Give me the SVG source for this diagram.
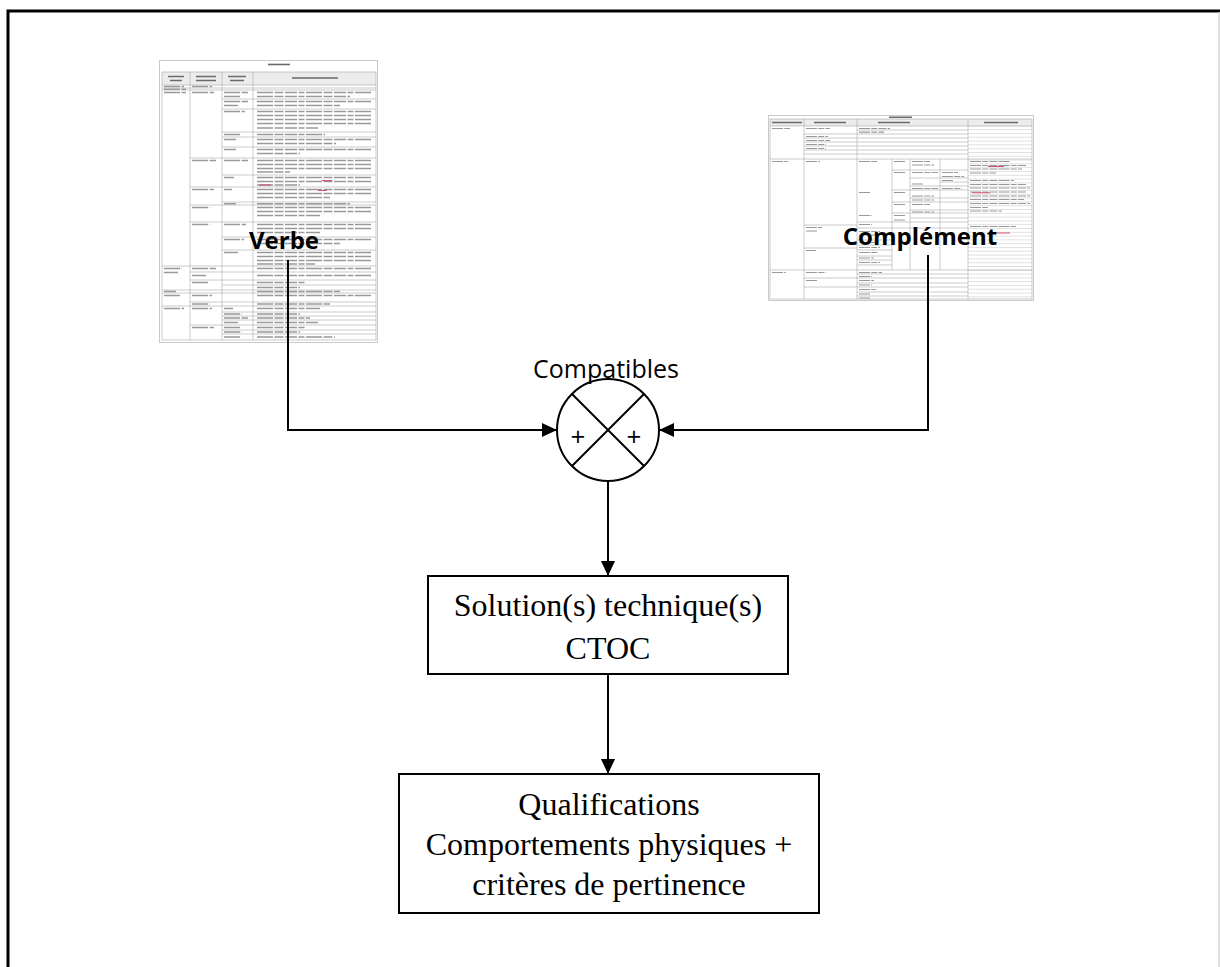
<svg xmlns="http://www.w3.org/2000/svg" width="1220" height="967" viewBox="0 0 1220 967">
<style>
.gl{stroke:#a9a9a9;stroke-width:0.6;fill:none}
.t{stroke:#999;stroke-width:1.5;stroke-dasharray:16 1.5 9 1.5 12 1.5 6 1.5;fill:none}
.t2{stroke:#999;stroke-width:1.2;stroke-dasharray:11 1.2 6 1.2 8 1.2;fill:none}
.th{stroke:#6a6a6a;stroke-width:1.6;fill:none}
.red{stroke:#d04060;stroke-width:0.9;fill:none}
.ln{stroke:#000;stroke-width:2;fill:none}
.box{fill:#fff;stroke:#000;stroke-width:2}
.serif{font-family:"Liberation Serif","Times New Roman",serif;font-size:32px;text-anchor:middle;fill:#000}
.lbl{font-family:"Open Sans","Noto Sans",sans-serif;font-weight:bold;font-size:24px;text-anchor:middle;fill:#000}
.sans{font-family:"Open Sans","Noto Sans",sans-serif;text-anchor:middle;fill:#000}
</style>
<defs>
<marker id="ah" markerUnits="userSpaceOnUse" markerWidth="16" markerHeight="14" refX="15" refY="7" orient="auto">
<path d="M0,0L15,7L0,14z" fill="#000"/>
</marker>
<pattern id="rowsR" width="20" height="3.8" patternUnits="userSpaceOnUse">
<line x1="0" y1="0.3" x2="20" y2="0.3" stroke="#b5b5b5" stroke-width="0.5"/>
</pattern>
</defs>

<!-- page frame -->
<path d="M8,968V11H1220" fill="none" stroke="#000" stroke-width="3"/>
<line x1="1219" y1="12" x2="1219" y2="967" stroke="#d9d9d9" stroke-width="1.5"/>

<!-- left table thumbnail: base de verbes -->
<g id="table-verbes">
<rect x="159.5" y="60.5" width="218" height="282" fill="#fff" stroke="#c9c9c9" stroke-width="1"/>
<rect x="162" y="72" width="214" height="13" fill="#ececec"/>
<path class="th" d="M268,64.5H290"/>
<path class="th" d="M168,76.5H184M170,80.5H182M196,76.5H216M196,80.5H216M228,76.5H246M230,80.5H244M292,78H338"/>
<rect x="162" y="72" width="214" height="268" class="gl"/>
<path class="gl" d="M190,72V340M222,72V340M253,72V340"/>
<path class="gl" d="M162,85H376M162,88H376M162,90H376M162,266H376M162,290H376M162,293H376M162,306H376"/>
<path class="gl" d="M190,158H376M190,187H376M190,205H376M190,222H376M190,272H376M190,280H376M190,302H376M190,325H376"/>
<path class="gl" d="M222,99H376M222,109H376M222,132H376M222,137H376M222,147H376M222,175H376M222,202H376M222,237H376M222,250H376M222,285H376M222,312H376M222,316H376M222,320H376M222,330H376M222,334H376"/>
<path class="t" d="M257,92.5H372M257,96.5H350M257,101.5H372M257,105.5H340M257,111.5H372M257,115.5H372M257,119.5H372M257,123.5H372M257,128H318M257,134.5H325M257,139.5H372M257,143.5H336M257,149.5H372M257,153.5H300M257,160.5H372M257,164.5H372M257,168.5H372M257,172H290M257,177.5H372M257,181.5H372M257,185H300M257,189.5H372M257,193.5H372M257,197.5H330M257,203.8H350M257,207.5H372M257,211.5H372M257,215.5H320M257,224.5H372M257,228.5H372M257,232.5H320M257,239.5H372M257,243.5H340M257,252.5H372M257,256.5H372M257,260.5H372M257,264H315M257,268.5H372M257,275.5H372M257,282.5H305M257,287.5H300M257,291.5H340M257,295.5H372M257,304H330M257,308.5H320M257,314H300M257,318H310M257,322.5H318M257,327.5H305M257,332H300M257,337H335"/>
<path class="t" d="M224,92.5H248M224,96.5H240M224,101.5H248M224,105.5H238M224,111.5H245M224,134.5H240M224,139.5H236M224,149.5H236M224,160.5H248M224,177.5H234M224,189.5H232M224,203.8H236M224,224.5H246M224,239.5H244M224,252.5H238M224,308.5H233M224,314H242M224,318H248M224,322.5H238M224,327.5H240M224,332H242M224,337H240"/>
<path class="t" d="M192,86.5H212M192,92.5H214M192,160.5H216M192,189.5H214M192,207.5H210M192,224.5H210M192,268.5H216M192,275.5H206M192,282.5H208M192,295.5H212M192,304H210M192,308.5H212M192,327.5H214"/>
<path class="t" d="M164,86.5H184M164,89.2H186M164,92.5H186M164,268.5H182M164,272.5H178M164,291.5H176M164,295.5H180M164,308.5H184"/>
<path class="red" d="M322,180.5H332M259,185H271M318,190.5H327"/>
</g>

<!-- right table thumbnail: complement -->
<g id="table-complement">
<rect x="768.5" y="115.5" width="265" height="185" fill="#fff" stroke="#c9c9c9" stroke-width="1"/>
<rect x="770" y="119" width="262" height="7" fill="#ececec"/>
<path class="th" stroke-width="1.2" d="M889,117.3H912M772,122.5H802M814,122.5H846M878,122.5H910M984,122.5H1018"/>
<rect x="968" y="126" width="64" height="173" fill="url(#rowsR)"/>
<rect x="770" y="119" width="262" height="180" class="gl"/>
<path class="gl" d="M804,119V299M857,119V299M968,119V299M892,159V270M910,159V270M940,159V270"/>
<path class="gl" d="M770,126H1032M770,159H1032M770,270H1032"/>
<path class="gl" d="M804,134H968M804,138H968M804,142H968M804,146H968M804,150H968M804,154H968M857,130H968"/>
<path class="gl" d="M892,170H968M910,178H968M940,182H968M910,186H968M892,190H968M910,198H968M892,202H968M910,210H968M892,213H968M910,218H968M857,222H968M857,228H968M804,225H857M857,240H892M857,245H892M857,250H892M804,248H857M857,256H892M857,260H892M857,265H892"/>
<path class="gl" d="M857,274H968M804,278H968M857,283H968M804,287H968M857,292H968M857,296H968"/>
<path class="t2" d="M772,128.5H790M772,161.5H788M772,272.5H786"/>
<path class="t2" d="M806,128.5H830M806,136.5H828M806,140.5H830M806,144.5H826M806,148.5H826M806,161.5H820M806,227.5H822M806,231H818M806,250.5H816M806,272.5H826M806,280.5H818"/>
<path class="t2" d="M859,128.5H890M859,132.2H884M859,161.5H878M859,192.5H870M859,215.5H872M859,224.5H872M859,231.5H880M859,235H876M859,242.5H878M859,247.5H880M859,252.5H878M859,258H874M859,262.5H880M859,272.5H882M859,276.5H872M859,280.5H874M859,285H872M859,289.5H876M859,294H870M859,298H870"/>
<path class="t2" d="M894,161.5H906M894,172.5H906M894,192.5H906M894,204.5H906M894,215.5H906M894,220H906"/>
<path class="t2" d="M912,161.5H930M912,165H934M912,172.5H938M912,184H924M912,188.5H938M912,196H934M912,200H934M912,204.5H930M912,212H934"/>
<path class="t2" d="M942,172.5H958M942,176.5H964M942,180.5H954M942,188.5H962"/>
<path class="t2" d="M970,161.5H1010M970,165.5H1026M970,169H1022M970,173H996M970,180.5H1014M970,184.5H1026M970,188H1030M970,192H1026M970,196H1030M970,199.5H1024M970,203.5H1030M970,207.5H988M970,211H1002M970,226.5H1016"/>
<path class="red" d="M988,166.5H1004M972,192.8H990M995,233H1010"/>
</g>

<!-- labels over the thumbnails -->
<g id="verbe">
<text class="lbl" x="284" y="249">Verbe</text>
</g>
<g id="complement">
<text class="lbl" x="920" y="245">Complément</text>
</g>

<!-- summing junction -->
<g id="compatibles">
<text class="sans" x="606" y="378" font-size="25">Compatibles</text>
<circle cx="608" cy="430" r="51" fill="none" stroke="#000" stroke-width="2"/>
<path class="ln" d="M572,394L644,466M644,394L572,466"/>
<text class="sans" x="578" y="446" font-size="26">+</text>
<text class="sans" x="634" y="446" font-size="26">+</text>
</g>

<!-- result boxes -->
<g id="solution">
<rect class="box" x="428" y="576" width="360" height="98"/>
<text class="serif" x="608" y="616">Solution(s) technique(s)</text>
<text class="serif" x="608" y="659">CTOC</text>
</g>
<g id="qualifications">
<rect class="box" x="399" y="774" width="420" height="139"/>
<text class="serif" x="609" y="815">Qualifications</text>
<text class="serif" x="609" y="855">Comportements physiques +</text>
<text class="serif" x="609" y="895">critères de pertinence</text>
</g>

<!-- connectors -->
<g id="connectors">
<path class="ln" d="M288,260V430H557" marker-end="url(#ah)"/>
<path class="ln" d="M928,255V430H659" marker-end="url(#ah)"/>
<path class="ln" d="M608,481V576" marker-end="url(#ah)"/>
<path class="ln" d="M608,674V774" marker-end="url(#ah)"/>
</g>
</svg>
